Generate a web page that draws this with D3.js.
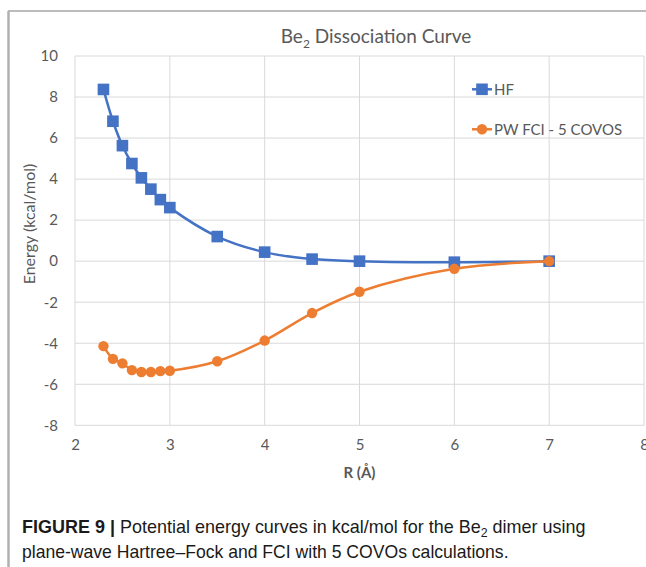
<!DOCTYPE html>
<html>
<head>
<meta charset="utf-8">
<script src="https://cdn.jsdelivr.net/npm/d3@7"></script>
<style>
  html, body { margin: 0; padding: 0; background: #fff; }
  svg { display: block; }
</style>
</head>
<body>
<svg id="chart" width="646" height="567"></svg>
<script>
// Bond distance R (Å)
const distances = [2.3, 2.4, 2.5, 2.6, 2.7, 2.8, 2.9, 3.0, 3.5, 4.0, 4.5, 5.0, 6.0, 7.0];
// Relative energies (kcal/mol)
const hfEnergy  = [8.37, 6.82, 5.63, 4.76, 4.06, 3.51, 3.00, 2.61, 1.20, 0.44, 0.10, 0.00, -0.05, 0.00];
const fciEnergy = [-4.14, -4.76, -4.98, -5.31, -5.40, -5.40, -5.36, -5.34, -4.88, -3.87, -2.53, -1.49, -0.37, 0.00];
const seriesNames = ["HF", "PW FCI - 5 COVOS"];
const xTicks = [2, 3, 4, 5, 6, 7, 8];
const yTicks = [-8, -6, -4, -2, 0, 2, 4, 6, 8, 10];

const svg = d3.select("#chart");
const chartFont = "Lato, 'Open Sans', sans-serif";
const textGrey = "#595959";
const blue = "#4472C4", orange = "#ED7D31";
const plainNumber = d => String(d);

// Figure frame
svg.append("line").attr("x1", 8).attr("x2", 646).attr("y1", 11).attr("y2", 11)
  .attr("stroke", "#7a7a7a").attr("stroke-width", 1.2);
svg.append("line").attr("x1", 8.5).attr("x2", 8.5).attr("y1", 11).attr("y2", 567)
  .attr("stroke", "#b0b0b0").attr("stroke-width", 2.5);

const x = d3.scaleLinear().domain([2, 8]).range([75, 644]);
const y = d3.scaleLinear().domain([-8, 10]).range([425.3, 56]);

// Gridlines
const grid = svg.append("g").attr("stroke", "#d9d9d9").attr("stroke-width", 1);
grid.selectAll("line.h").data(yTicks).join("line").attr("class", "h")
  .attr("x1", x(2)).attr("x2", x(8)).attr("y1", d => y(d)).attr("y2", d => y(d));
grid.selectAll("line.v").data(xTicks).join("line").attr("class", "v")
  .attr("x1", d => x(d)).attr("x2", d => x(d)).attr("y1", y(-8)).attr("y2", y(10));

// Axes (labels only)
const yAxis = svg.append("g").attr("transform", `translate(${x(2) - 17},0)`)
  .call(d3.axisLeft(y).tickValues(yTicks).tickSize(0).tickPadding(0).tickFormat(plainNumber));
yAxis.select(".domain").remove();
yAxis.selectAll("text").attr("fill", textGrey).style("font-family", chartFont).style("font-size", "15px");

const xAxis = svg.append("g").attr("transform", `translate(0,${y(-8) + 10})`)
  .call(d3.axisBottom(x).tickValues(xTicks).tickSize(0).tickPadding(4).tickFormat(plainNumber));
xAxis.select(".domain").remove();
xAxis.selectAll("text").attr("fill", textGrey).style("font-family", chartFont).style("font-size", "15px");

// Title
const title = svg.append("text").attr("x", 376).attr("y", 43).attr("text-anchor", "middle")
  .attr("fill", textGrey).style("font-family", chartFont).style("font-size", "19px");
title.append("tspan").text("Be");
title.append("tspan").attr("dy", 5).style("font-size", "12px").text("2");
title.append("tspan").attr("dy", -5).text(" Dissociation Curve");

// Axis titles
svg.append("text").attr("x", x(5)).attr("y", 478).attr("text-anchor", "middle")
  .attr("fill", textGrey).style("font-family", chartFont).style("font-size", "15px")
  .style("font-weight", "bold").text("R (Å)");
svg.append("text").attr("transform", `translate(35,${224}) rotate(-90)`).attr("text-anchor", "middle")
  .attr("fill", textGrey).style("font-family", chartFont).style("font-size", "16px")
  .text("Energy (kcal/mol)");

// Series
const series = [
  { name: seriesNames[0], values: hfEnergy, color: blue, shape: "square" },
  { name: seriesNames[1], values: fciEnergy, color: orange, shape: "circle" }
];

const line = d3.line().x(d => x(d[0])).y(d => y(d[1])).curve(d3.curveCatmullRom.alpha(0.5));

function drawMarker(g, cx, cy, s) {
  if (s.shape === "square") {
    g.append("rect").attr("x", cx - 5.8).attr("y", cy - 5.8).attr("width", 11.6).attr("height", 11.6)
      .attr("fill", s.color);
  } else {
    g.append("circle").attr("cx", cx).attr("cy", cy).attr("r", 5.2).attr("fill", s.color);
  }
}

series.forEach(s => {
  const pts = distances.map((r, i) => [r, s.values[i]]);
  const g = svg.append("g");
  g.append("path").datum(pts).attr("d", line).attr("fill", "none")
    .attr("stroke", s.color).attr("stroke-width", 2.5);
  pts.forEach(p => drawMarker(g, x(p[0]), y(p[1]), s));
});

// Legend
const legendY = [89.3, 129.3];
series.forEach((s, i) => {
  const g = svg.append("g");
  g.append("line").attr("x1", 472).attr("x2", 492).attr("y1", legendY[i]).attr("y2", legendY[i])
    .attr("stroke", s.color).attr("stroke-width", 2.5);
  drawMarker(g, 482, legendY[i], s);
  g.append("text").attr("x", 494).attr("y", legendY[i] + 5.5).attr("fill", textGrey)
    .style("font-family", chartFont).style("font-size", "15px").text(s.name);
});

// Caption
const capFont = "'Liberation Sans', Arial, sans-serif";
function captionLine(yPos, targetWidth, build) {
  const t = svg.append("text").attr("x", 0).attr("y", 0).attr("fill", "#1a1a1a")
    .style("font-family", capFont).style("font-size", "17.5px");
  build(t);
  const w = t.node().getComputedTextLength();
  t.attr("transform", `translate(22,${yPos}) scale(${targetWidth / w},1)`);
}
captionLine(533, 564, t => {
  t.append("tspan").style("font-weight", "bold").text("FIGURE 9 | ");
  t.append("tspan").text("Potential energy curves in kcal/mol for the Be");
  t.append("tspan").attr("dy", 4).style("font-size", "12px").text("2");
  t.append("tspan").attr("dy", -4).text(" dimer using");
});
captionLine(558, 487, t => {
  t.append("tspan").text("plane-wave Hartree–Fock and FCI with 5 COVOs calculations.");
});
</script>
</body>
</html>
